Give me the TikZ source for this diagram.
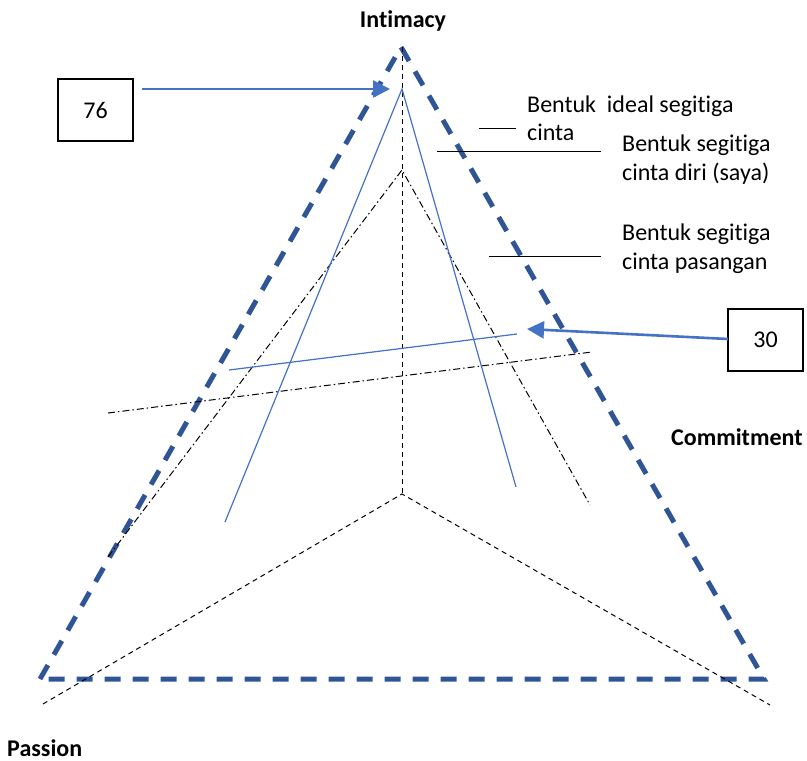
\documentclass[tikz,border=0pt]{standalone}
\usepackage{fontspec}
\setmainfont[Ligatures=NoCommon]{Carlito}
\usetikzlibrary{arrows.meta}
\definecolor{dkblue}{RGB}{47,85,151}
\definecolor{ltblue}{RGB}{68,114,196}
\begin{document}
\begin{tikzpicture}[x=1pt,y=-1pt,
  bigtri/.style={draw=dkblue,line width=5pt,dash pattern=on 16pt off 12pt},
  axisline/.style={draw=black,line width=1pt,dash pattern=on 5pt off 4pt},
  ddline/.style={draw=black,line width=1pt,dash pattern=on 7pt off 3pt on 1.5pt off 3pt},
  thinblue/.style={draw=ltblue,line width=1.2pt},
  bigarrow/.style={draw=ltblue,line width=2.6pt,-{Triangle[length=17pt,width=17pt]}},
  numbox/.style={draw=black,line width=1.2pt,minimum width=75pt,minimum height=62pt,inner sep=0pt,font=\fontsize{24}{28}\selectfont},
  lbl/.style={anchor=base west,inner sep=0pt,font=\fontsize{24}{28}\selectfont},
  axlbl/.style={inner sep=0pt,font=\fontsize{24}{28}\selectfont\bfseries},
  legline/.style={draw=black,line width=1pt}]
\useasboundingbox (0,0) rectangle (807,761);
% big dashed triangle
\coordinate (T) at (401,47);
\coordinate (L) at (40,679);
\coordinate (R) at (764,679);
\draw[bigtri] (L) -- (T) -- (R) -- cycle;
% axes
\coordinate (C) at (402,494);
\coordinate (Ctop) at (402,47);
\coordinate (Cl) at (43,704);
\coordinate (Cr) at (770,705);
\draw[axisline] (Ctop) -- (C);
\draw[axisline] (Cl) -- (C) -- (Cr);
% ideal (dash-dot) triangle
\coordinate (D1) at (402,170);
\coordinate (D2) at (108,557);
\coordinate (D3) at (590,505);
\coordinate (D4) at (108,413);
\coordinate (D5) at (592,352);
\draw[ddline] (D2) -- (D1) -- (D3);
\draw[ddline] (D4) -- (D5);
% self (blue) triangle
\coordinate (B1) at (402,89);
\coordinate (B2) at (225,522);
\coordinate (B3) at (516,487);
\coordinate (B4) at (229,370);
\coordinate (B5) at (517,334);
\draw[thinblue] (B2) -- (B1) -- (B3);
\draw[thinblue] (B4) -- (B5);
% boxes and arrows
\node[numbox] (b76) at (95.5,110) {76};
\node[numbox] (b30) at (765.5,340) {30};
\coordinate (a76s) at (142,89);
\coordinate (a76e) at (390,89);
\coordinate (a30s) at (728,339);
\coordinate (a30e) at (527,329);
\draw[bigarrow] (a76s) -- (a76e);
\draw[bigarrow] (a30s) -- (a30e);
% axis labels
\node[axlbl,anchor=base] (lint) at (403,27) {Intimacy};
\node[axlbl,anchor=base west] (lcom) at (671,445) {Commitment};
\node[axlbl,anchor=base west] (lpas) at (7,756) {Passion};
% legend
\node[lbl] (t1a) at (527,112) {Bentuk\ \ ideal segitiga};
\node[lbl] (t1b) at (527,140) {cinta};
\node[lbl] (t2a) at (622,151) {Bentuk segitiga};
\node[lbl] (t2b) at (622,180) {cinta diri (saya)};
\node[lbl] (t3a) at (622,240) {Bentuk segitiga};
\node[lbl] (t3b) at (622,269) {cinta pasangan};
\coordinate (l1a) at (479,128);
\coordinate (l1b) at (516,128);
\coordinate (l2a) at (437,151);
\coordinate (l2b) at (601,151);
\coordinate (l3a) at (489,256);
\coordinate (l3b) at (601,256);
\draw[legline] (l1a) -- (l1b);
\draw[legline] (l2a) -- (l2b);
\draw[legline] (l3a) -- (l3b);
\end{tikzpicture}
\end{document}
